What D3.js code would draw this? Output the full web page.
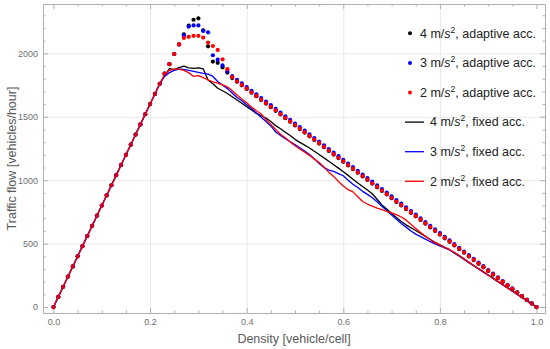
<!DOCTYPE html>
<html>
<head>
<meta charset="utf-8">
<script src="https://cdn.jsdelivr.net/npm/d3@7"></script>
<style>
  body { margin: 0; background: #fff; }
  svg text { font-family: "Liberation Sans", Arial, sans-serif; }
</style>
</head>
<body>
<div id="chart"></div>
<script>
var density = [0.00,0.01,0.02,0.03,0.04,0.05,0.06,0.07,0.08,0.09,
  0.10,0.11,0.12,0.13,0.14,0.15,0.16,0.17,0.18,0.19,
  0.20,0.21,0.22,0.23,0.24,0.25,0.26,0.27,0.28,0.29,
  0.30,0.31,0.32,0.33,0.34,0.35,0.36,0.37,0.38,0.39,
  0.40,0.41,0.42,0.43,0.44,0.45,0.46,0.47,0.48,0.49,
  0.50,0.51,0.52,0.53,0.54,0.55,0.56,0.57,0.58,0.59,
  0.60,0.61,0.62,0.63,0.64,0.65,0.66,0.67,0.68,0.69,
  0.70,0.71,0.72,0.73,0.74,0.75,0.76,0.77,0.78,0.79,
  0.80,0.81,0.82,0.83,0.84,0.85,0.86,0.87,0.88,0.89,
  0.90,0.91,0.92,0.93,0.94,0.95,0.96,0.97,0.98,0.99,1.00];

// adaptive acceleration (dots)
var adaptive4 = [0,80,160,240,320,400,480,560,640,720,
  800,880,960,1040,1120,1200,1280,1360,1440,1520,
  1600,1680,1760,1840,1915,1995,2070,2150,2218,2265,
  2276,2182,2055,1935,1925,1890,1848,1805,1776,1748,
  1719,1690,1662,1633,1604,1576,1547,1518,1489,1461,
  1432,1403,1375,1346,1317,1289,1260,1231,1202,1174,
  1145,1116,1088,1059,1030,1002,973,944,915,887,
  858,829,801,772,743,715,686,657,628,600,
  571,542,514,485,456,428,399,370,341,313,
  284,255,227,198,169,141,112,84,55,27,0];
var adaptive3 = [0,80,160,240,320,400,480,560,640,720,
  800,880,960,1040,1120,1200,1280,1360,1440,1520,
  1600,1680,1760,1840,1915,1995,2070,2142,2211,2220,
  2220,2177,2166,1985,1950,1905,1860,1820,1791,1763,
  1734,1705,1677,1648,1619,1591,1562,1533,1504,1476,
  1447,1418,1390,1361,1332,1304,1275,1246,1217,1189,
  1160,1131,1103,1074,1045,1017,988,959,930,902,
  873,843,815,786,757,728,699,670,641,612,
  583,554,525,496,467,438,409,380,351,322,
  292,263,234,205,175,147,117,88,58,29,0];
var adaptive2 = [0,80,160,240,320,400,480,560,640,720,
  800,880,960,1040,1120,1200,1280,1360,1440,1520,
  1600,1680,1760,1840,1915,1995,2070,2121,2130,2138,
  2138,2124,2085,2058,2027,1953,1875,1812,1779,1751,
  1722,1693,1665,1636,1607,1579,1550,1521,1492,1464,
  1435,1406,1378,1349,1320,1292,1263,1234,1205,1177,
  1148,1119,1091,1062,1033,1005,976,947,918,890,
  861,832,804,775,746,718,689,660,631,603,
  574,545,517,488,459,431,402,373,344,316,
  287,258,230,201,172,144,115,86,57,29,0];

// fixed acceleration (lines)
var fixed4 = [0,80,160,240,320,400,480,560,640,720,
  800,880,960,1040,1120,1200,1280,1360,1440,1520,
  1600,1680,1760,1825,1880,1872,1888,1900,1885,1882,
  1885,1878,1790,1760,1725,1705,1683,1658,1632,1606,
  1580,1553,1527,1508,1490,1462,1430,1405,1378,1352,
  1322,1298,1276,1254,1228,1202,1176,1150,1122,1095,
  1067,1038,1008,978,950,922,893,850,805,772,
  738,705,675,648,625,603,580,557,532,510,
  490,470,452,430,405,380,352,327,302,278,
  252,228,202,178,152,127,102,77,52,27,0];
var fixed3 = [0,80,160,240,320,400,480,560,640,720,
  800,880,960,1040,1120,1200,1280,1360,1440,1520,
  1600,1680,1760,1818,1848,1866,1875,1873,1866,1858,
  1850,1842,1836,1818,1778,1750,1722,1688,1652,1626,
  1595,1565,1530,1496,1462,1428,1380,1352,1328,1303,
  1280,1256,1230,1203,1170,1132,1100,1080,1070,1052,
  1035,1000,968,942,912,888,862,830,795,760,
  726,692,658,630,600,575,555,535,515,498,
  482,466,450,425,400,375,350,325,300,275,
  250,225,200,175,150,125,100,75,50,25,0];
var fixed2 = [0,80,160,240,320,400,480,560,640,720,
  800,880,960,1040,1120,1200,1280,1360,1440,1520,
  1600,1680,1760,1832,1866,1876,1875,1866,1848,1818,
  1824,1808,1790,1776,1765,1752,1736,1705,1672,1640,
  1610,1577,1548,1522,1478,1440,1400,1362,1335,1302,
  1272,1246,1220,1196,1166,1140,1104,1062,1030,990,
  955,925,908,870,832,812,795,780,768,754,
  742,728,710,685,652,620,588,558,530,508,
  490,470,452,430,404,379,354,328,303,278,
  252,227,202,177,151,126,101,76,50,25,0];

var accels = ["4", "3", "2"];
var colors = ["#000000", "#0000ff", "#ff0000"];
var xMajor = [0, 0.2, 0.4, 0.6, 0.8, 1.0],
    xMinor = [0.05,0.1,0.15,0.25,0.3,0.35,0.45,0.5,0.55,0.65,0.7,0.75,0.85,0.9,0.95],
    yMajor = [0, 500, 1000, 1500, 2000],
    yMinor = [100,200,300,400,600,700,800,900,1100,1200,1300,1400,1600,1700,1800,1900,2100,2200,2300];

var width = 550, height = 349;
var frame = {left: 43, right: 545, top: 4, bottom: 313};

var x = d3.scaleLinear()
    .domain([-0.0217, 1.0176])
    .range([frame.left, frame.right]);

var y = d3.scaleLinear()
    .domain([-47, 2389])
    .range([frame.bottom, frame.top]);

var svg = d3.select("#chart").append("svg")
    .attr("width", width)
    .attr("height", height);

// grid lines
svg.append("g")
    .attr("class", "grid")
    .attr("transform", "translate(0," + frame.bottom + ")")
    .call(d3.axisBottom(x).tickValues(xMajor.slice(1, -1)).tickSize(-(frame.bottom - frame.top)).tickFormat(""));
svg.append("g")
    .attr("class", "grid")
    .attr("transform", "translate(" + frame.left + ",0)")
    .call(d3.axisLeft(y).tickValues(yMajor.slice(1)).tickSize(-(frame.right - frame.left)).tickFormat(""));
svg.selectAll(".grid .domain").remove();
svg.selectAll(".grid line").attr("stroke", "#e9e9e9").attr("stroke-width", 1);

// frame ticks (inside), labels on bottom and left only
function frameAxis(axis, values, size, labels) {
  return axis.tickValues(values).tickSizeInner(-size).tickSizeOuter(0)
      .tickFormat(labels ? labels : "");
}

var axisB = svg.append("g").attr("class", "frame").attr("transform", "translate(0," + frame.bottom + ")");
axisB.append("g").call(frameAxis(d3.axisBottom(x), xMajor, 5, d3.format(".1f")).tickPadding(6));
axisB.append("g").call(frameAxis(d3.axisBottom(x), xMinor, 2.5));

var axisT = svg.append("g").attr("class", "frame").attr("transform", "translate(0," + frame.top + ")");
axisT.append("g").call(frameAxis(d3.axisTop(x), xMajor, 5));
axisT.append("g").call(frameAxis(d3.axisTop(x), xMinor, 2.5));

var axisL = svg.append("g").attr("class", "frame").attr("transform", "translate(" + frame.left + ",0)");
axisL.append("g").call(frameAxis(d3.axisLeft(y), yMajor, 5, d3.format("d")).tickPadding(5));
axisL.append("g").call(frameAxis(d3.axisLeft(y), yMinor, 2.5));

var axisR = svg.append("g").attr("class", "frame").attr("transform", "translate(" + frame.right + ",0)");
axisR.append("g").call(frameAxis(d3.axisRight(y), yMajor, 5));
axisR.append("g").call(frameAxis(d3.axisRight(y), yMinor, 2.5));

svg.selectAll(".frame .domain").attr("stroke", "#b0b0b0");
svg.selectAll(".frame .tick line").attr("stroke", "#b0b0b0");
svg.selectAll(".frame .tick text")
    .attr("fill", "#6e6e6e")
    .style("font-size", "9px");

// axis titles
svg.append("text")
    .attr("x", (frame.left + frame.right) / 2)
    .attr("y", 343)
    .attr("text-anchor", "middle")
    .attr("fill", "#5a5a5a")
    .style("font-size", "12.5px")
    .text("Density [vehicle/cell]");

svg.append("text")
    .attr("transform", "translate(16," + ((frame.top + frame.bottom) / 2) + ") rotate(-90)")
    .attr("text-anchor", "middle")
    .attr("fill", "#5a5a5a")
    .style("font-size", "12.5px")
    .text("Traffic flow [vehicles/hour]");

// adaptive series (dots)
var adaptive = [adaptive4, adaptive3, adaptive2];
adaptive.forEach(function(series, i) {
  svg.append("g")
      .selectAll("circle")
      .data(series)
    .enter().append("circle")
      .attr("cx", function(d, j) { return x(density[j]); })
      .attr("cy", function(d) { return y(d); })
      .attr("r", 2.1)
      .attr("fill", colors[i]);
});

// fixed series (lines)
var line = d3.line()
    .x(function(d, j) { return x(density[j]); })
    .y(function(d) { return y(d); });

var fixed = [fixed4, fixed3, fixed2];
fixed.forEach(function(series, i) {
  svg.append("path")
      .datum(series)
      .attr("fill", "none")
      .attr("stroke", colors[i])
      .attr("stroke-width", 1.3)
      .attr("stroke-linejoin", "round")
      .attr("d", line);
});

// legend
var legend = svg.append("g").style("font-size", "12.5px").attr("fill", "#222");

function legendLabel(g, tx, ty, acc, kind) {
  var t = g.append("text").attr("x", tx).attr("y", ty + 4.3);
  t.append("tspan").text(acc + " m/");
  t.append("tspan").style("font-style", "italic").text("s");
  t.append("tspan").attr("dy", -5).style("font-size", "8.5px").text("2");
  t.append("tspan").attr("dy", 5).text(", " + kind + " acc.");
}

accels.forEach(function(a, i) {
  var ly = 33.3 + 29.6 * i;
  legend.append("circle").attr("cx", 410).attr("cy", ly).attr("r", 2).attr("fill", colors[i]);
  legendLabel(legend, 420, ly, a, "adaptive");
});
accels.forEach(function(a, i) {
  var ly = 33.3 + 29.6 * (i + 3);
  legend.append("line")
      .attr("x1", 405).attr("x2", 424)
      .attr("y1", ly).attr("y2", ly)
      .attr("stroke", colors[i]).attr("stroke-width", 1.3);
  legendLabel(legend, 430, ly, a, "fixed");
});
</script>
</body>
</html>
